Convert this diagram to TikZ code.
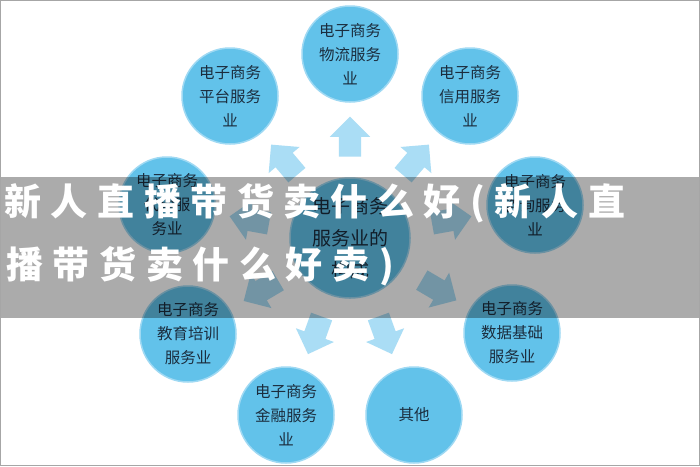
\documentclass[tikz,border=0pt]{standalone}
\usepackage{fontspec}
\newfontfamily\cjk{Noto Sans CJK SC}
\newfontfamily\cjkbig[LetterSpace=26]{Noto Sans CJK SC}
\usetikzlibrary{shapes.arrows,calc}
\definecolor{circfill}{HTML}{62C2EA}
\definecolor{circedge}{HTML}{9FD9F3}
\definecolor{arrfill}{HTML}{AADDF5}
\definecolor{txt}{HTML}{1B2D3E}
\tikzset{
  outer/.style={circle, fill=circfill, draw=circedge, line width=1.5pt, minimum size=96pt, inner sep=0pt,
    align=center, text=txt, font=\cjk\fontsize{15.5}{24}\selectfont},
  inner/.style={circle, fill=circfill, draw=circedge, line width=1.5pt, minimum size=120pt, inner sep=0pt,
    align=center, text=txt, font=\cjk\fontsize{19}{32}\selectfont},
  blockarr/.style={single arrow, fill=arrfill, draw=none, inner xsep=0pt, inner ysep=11pt, minimum height=40pt,
    minimum width=40pt, single arrow head extend=9pt, sloped, allow upside down, pos=0.52},
  bigtxt/.style={anchor=west, text=white, font=\cjkbig\bfseries\fontsize{37}{40}\selectfont, inner sep=0pt}
}
\begin{document}
\begin{tikzpicture}[x=1pt,y=-1pt]
\useasboundingbox (0,0) rectangle (700,466);
\fill[white] (0,0) rectangle (700,466);
\node[inner] (ctr) at (350,238) {电子商务\\服务业的\\构成};
\node[outer] (wl) at (350,54) {电子商务\\物流服务\\业};
\node[outer] (pt) at (230,96) {电子商务\\平台服务\\业};
\node[outer] (xy) at (470,96) {电子商务\\信用服务\\业};
\node[outer] (dl) at (167,205) {电子商务\\代理服\\务业};
\node[outer] (zx) at (535,205) {电子商务\\咨询服务\\业};
\node[outer] (jy) at (188,334) {电子商务\\教育培训\\服务业};
\node[outer] (sj) at (512,333) {电子商务\\数据基础\\服务业};
\node[outer] (jr) at (286,415) {电子商务\\金融服务\\业};
\node[outer] (qt) at (414,415) {其他};
\foreach \n in {wl,pt,xy,dl,zx,jy,sj,jr,qt}
  \path (ctr.center) -- (\n.center) node[blockarr] (a\n) {};
\fill[black, opacity=0.33] (0,177) rectangle (700,318);
\node[bigtxt] (t1) at (4,203) {新人直播带货卖什么好(新人直};
\node[bigtxt] (t2) at (6,266) {播带货卖什么好卖)};
\draw[gray!70, line width=1pt] (0.5,0.5) rectangle (699.5,465.5);
\end{tikzpicture}
\end{document}
